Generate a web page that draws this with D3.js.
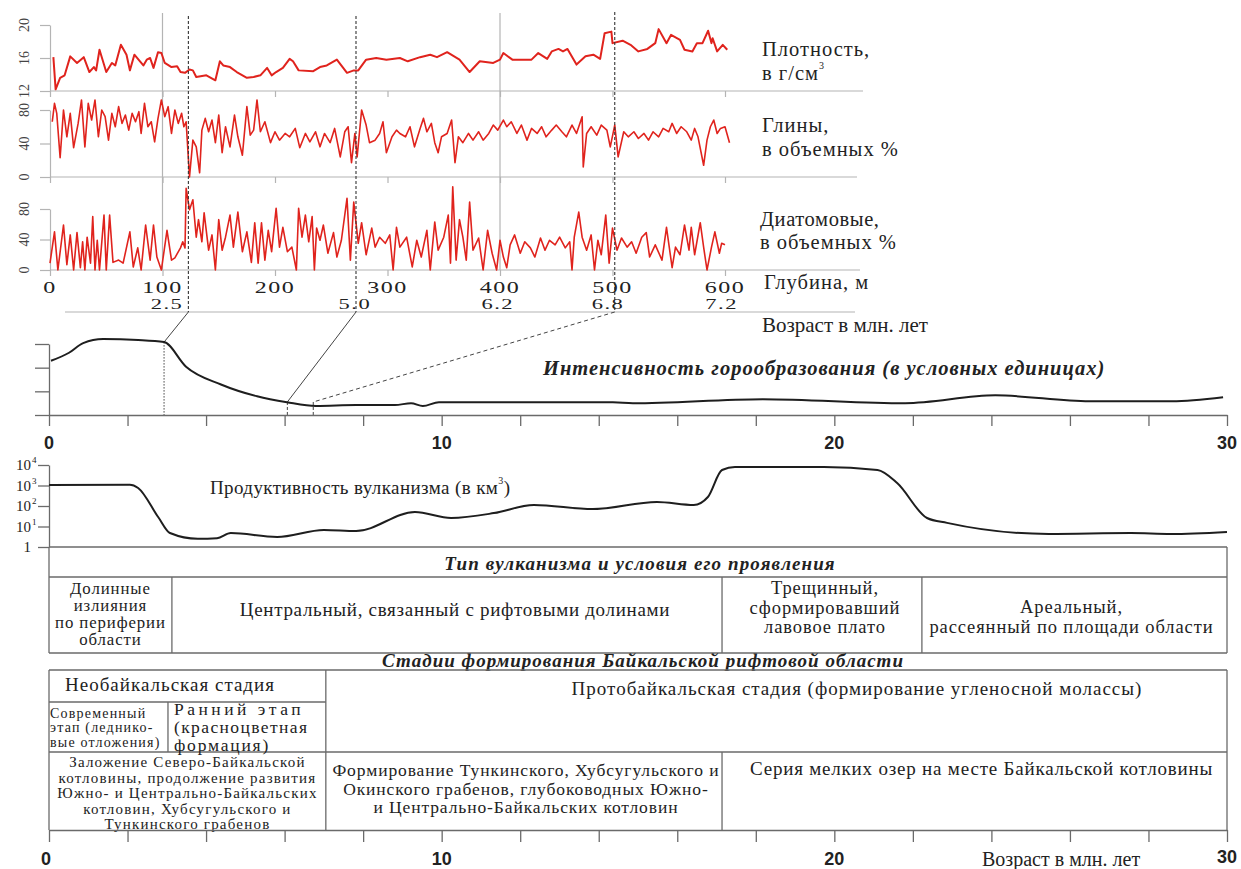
<!DOCTYPE html>
<html><head><meta charset="utf-8">
<script src="https://cdn.jsdelivr.net/npm/d3@7"></script>
<style>
body{margin:0;background:#fff}
svg{display:block}
text{font-family:"Liberation Serif","Times New Roman","DejaVu Serif",serif;fill:#222}
</style>
</head><body>
<svg id="c" width="1241" height="869"></svg>
<script>
// ---------------- DATA ----------------
const depthTicks = [0,100,200,300,400,500,600];
const depthGrid = [100,400];
const densityTicks = [12,16,20];
const pctTicks = [0,40,80];
const ageLabelText = ["2.5","5.0","6.2","6.8","7.2"];
const ageLabelDepth = [104,271,398,496,597];
const connectorDepth = [123,272,502];
const connectorAge = [2.93,6.07,6.73];
const connectorLevel = [3.08,0.55,0.55];

// density g/cm3 (x10) vs depth, m
const density = [[3,16.1],[5,12.2],[9,13.6],[13,13.9],[18,16.2],[24,15.4],[30,16.1],[35,14.3],[39,14.9],[41,14.5],
[44,17.0],[50,14.3],[55,15.4],[58,15.1],[63,17.6],[68,16.4],[71,14.5],[75,16.4],[80,15.6],[83,15.1],
[86,15.8],[89,16.0],[92,14.8],[96,16.7],[99,16.6],[102,15.4],[108,14.9],[113,15.0],[116,14.3],[120,14.2],
[124,14.6],[127,14.5],[130,13.7],[139,13.9],[147,13.3],[151,15.6],[154,15.1],[160,14.9],[166,14.3],[175,13.6],
[181,13.7],[187,13.9],[193,14.8],[197,13.9],[201,14.3],[207,14.8],[213,15.9],[216,15.6],[221,14.5],[234,14.4],
[240,14.9],[246,15.1],[255,15.8],[264,14.2],[270,14.5],[274,14.5],[281,15.8],[290,16.0],[299,15.8],
[311,16.0],[318,15.6],[329,16.1],[338,16.4],[344,16.1],[353,16.7],[364,15.8],[373,14.3],[382,15.6],[394,15.4],
[400,15.8],[403,16.6],[411,15.8],[428,15.8],[434,16.6],[442,15.9],[446,16.8],[452,17.1],[456,16.8],[460,17.1],
[468,15.2],[476,16.2],[483,16.4],[489,15.9],[493,19.0],[499,19.2],[500,17.8],[509,18.1],[516,17.6],[523,16.8],
[531,17.1],[538,17.8],[541,19.5],[548,17.8],[552,18.8],[560,18.2],[564,17.0],[571,16.8],[575,17.8],[580,17.8],
[585,19.3],[588,17.8],[589,18.4],[593,16.8],[598,17.6],[602,17.0]];

// clays, volume % vs depth
const clay = [[2,66],[4,88],[6,76],[9,23],[12,80],[15,48],[18,76],[21,35],[25,64],[28,92],[31,36],[34,88],[37,68],[40,92],
[43,48],[46,80],[49,72],[52,44],[55,76],[58,60],[61,84],[64,64],[67,74],[70,56],[73,76],[76,66],[79,78],[81,52],
[84,88],[87,60],[90,66],[93,42],[96,70],[99,92],[102,72],[105,84],[108,52],[111,80],[114,64],[117,76],[119,60],
[121,66],[124,0],[127,44],[130,36],[133,5],[135,56],[138,70],[141,54],[144,68],[147,41],[150,74],[153,29],[156,60],
[160,36],[164,74],[167,48],[171,26],[175,84],[178,50],[181,56],[184,92],[187,54],[191,66],[196,41],[200,54],[204,44],
[209,52],[213,48],[218,58],[222,35],[227,52],[231,42],[236,54],[240,36],[244,52],[249,41],[253,58],[258,24],[262,54],
[265,60],[268,17],[271,52],[273,24],[277,80],[281,62],[284,41],[289,44],[293,52],[296,66],[299,29],[304,48],[308,56],
[311,52],[316,48],[320,60],[324,36],[329,58],[332,70],[335,54],[339,64],[342,41],[345,29],[348,48],[353,52],[357,68],
[360,17],[363,48],[367,41],[372,52],[376,44],[381,54],[385,44],[390,52],[394,62],[398,56],[403,68],[406,60],[410,66],
[415,52],[419,62],[424,44],[428,58],[433,52],[437,60],[441,48],[446,56],[450,62],[455,54],[459,48],[464,62],[468,52],
[473,72],[474,12],[477,52],[481,60],[486,50],[490,62],[495,56],[498,36],[502,62],[505,24],[510,54],[514,48],[519,54],
[523,46],[528,52],[532,44],[536,54],[541,48],[545,58],[550,54],[553,64],[557,52],[561,60],[566,54],[570,44],[573,58],
[576,48],[581,14],[584,44],[587,60],[590,68],[593,52],[596,58],[600,60],[604,41]];

// diatoms, volume % vs depth
const diatoms = [[0,9],[4,50],[7,0],[12,59],[15,7],[18,46],[21,0],[24,49],[27,3],[29,37],[31,0],[33,43],[36,9],[38,70],
[40,0],[42,39],[44,0],[48,72],[50,0],[53,72],[56,10],[61,13],[65,9],[71,50],[74,4],[78,29],[81,0],[85,59],[89,13],
[92,59],[95,17],[99,0],[104,52],[108,13],[111,16],[116,29],[118,37],[120,29],[121,107],[124,79],[127,92],[130,43],
[132,66],[135,37],[137,75],[141,26],[144,46],[147,0],[150,66],[153,26],[156,43],[160,72],[163,30],[167,76],[171,24],
[175,50],[179,10],[182,62],[185,9],[188,62],[191,13],[194,52],[197,24],[201,81],[204,30],[207,56],[211,24],[215,30],
[219,0],[221,81],[224,43],[227,72],[230,37],[233,70],[235,0],[237,55],[240,39],[243,59],[247,22],[252,49],[255,17],
[259,39],[264,94],[267,13],[270,89],[274,35],[277,62],[281,20],[286,55],[289,30],[293,43],[298,35],[302,46],[305,0],
[308,56],[311,30],[317,43],[322,4],[326,39],[330,17],[335,52],[338,0],[342,63],[345,26],[350,43],[354,72],[356,9],
[358,109],[361,13],[364,66],[367,43],[370,13],[373,89],[376,26],[381,42],[385,0],[389,52],[393,22],[397,0],[400,39],
[403,17],[406,3],[409,33],[413,46],[418,22],[422,37],[427,29],[431,17],[436,42],[440,26],[444,39],[449,33],[453,43],
[458,29],[462,37],[464,0],[466,43],[470,76],[473,43],[477,26],[481,46],[484,0],[487,39],[490,20],[494,72],[497,9],
[500,55],[504,26],[508,42],[513,30],[517,37],[521,22],[526,43],[530,49],[533,17],[538,33],[544,13],[548,56],[553,3],
[556,30],[560,20],[564,59],[568,26],[570,56],[573,20],[578,62],[581,30],[584,0],[588,30],[591,50],[595,22],[597,35],[600,33]];

// mountain building intensity (conventional units) vs age, Ma
const intensity = [[0.05,2.29],[0.51,2.63],[0.87,3.04],[1.38,3.21],[2.27,3.17],[2.93,3.08],[3.49,2.04],[4.38,1.29],
[5.30,0.79],[6.06,0.54],[6.80,0.38],[7.82,0.42],[8.81,0.42],[9.22,0.5],[9.52,0.38],[9.93,0.54],[11.84,0.54],
[14.36,0.54],[14.87,0.5],[18.18,0.67],[21.8,0.5],[24.1,0.83],[26.5,0.58],[28.6,0.58],[29.9,0.75]];
const intensityTicks = [0,1,2,3];

// volcanism productivity, km3 vs age, Ma
const volcanism = [[0,1050],[2.06,1100],[2.27,760],[2.78,29],[3.08,4.8],[3.79,2.5],[4.28,2.7],[4.63,4.8],[5.81,3.1],
[7.0,6.8],[7.82,6.0],[9.32,51],[10.24,26],[11.33,45],[12.35,112],[13.85,71],[15.48,157],[16.42,112],[16.78,275],
[17.14,5700],[17.47,7900],[19.73,7900],[21.1,5700],[21.6,1320],[22.36,26],[22.87,15],[25.46,4.3],[27.55,4.8],
[28.57,4.3],[30.0,5.4]];
const volTicks = [1,10,100,1000,10000];
const volTickExp = ["","1","2","3","4"];

const ageTicks = [0,2,4,6,8,10,12,14,16,18,20,22,24,26,28,30];
const ageLabels = [0,10,20,30];

// volcanism type table
const volcTypeBreaks = [0,3.13,17.14,22.23,30];
const volcTypeText = [["Долинные","излияния","по периферии","области"],
  ["Центральный, связанный с рифтовыми долинами"],
  ["Трещинный,","сформировавший","лавовое плато"],
  ["Ареальный,","рассеянный по площади области"]];

// stages table
const stageNeoEnd = 7.05, stageModernEnd = 3.03, stageTunkaEnd = 17.14;
const stageNeo = "Необайкальская стадия";
const stageModern = ["Современный","этап (леднико-","вые отложения)"];
const stageEarly = ["Ранний этап","(красноцветная","формация)"];
const stageProto = "Протобайкальская стадия (формирование угленосной молассы)";
const stageRowA = ["Заложение Северо-Байкальской","котловины, продолжение развития","Южно- и Центрально-Байкальских","котловин, Хубсугульского и","Тункинского грабенов"];
const stageRowB = ["Формирование Тункинского, Хубсугульского и","Окинского грабенов, глубоководных Южно-","и Центрально-Байкальских котловин"];
const stageRowC = ["Серия мелких озер на месте Байкальской котловины"];

// ---------------- DRAW ----------------
const svg = d3.select("#c");
const red = "#e0231d", ink = "#1e1e1e", grid = "#b4b4b4", rule = "#6a6a6a";

const xDepth = d3.scaleLinear().domain([0,600]).range([50,725]);
const yDen = d3.scaleLinear().domain([12,20]).range([91,25]);
const yClay = d3.scaleLinear().domain([0,80]).range([177,110]);
const yDia = d3.scaleLinear().domain([0,80]).range([270,209]);
const xAge = d3.scaleLinear().domain([0,30]).range([49,1227]);
const yInt = d3.scaleLinear().domain([0,3]).range([415,344]);
const yVol = d3.scaleLog().domain([1,1e4]).range([547,465]);

function txt(g, x, y, s, o={}){
  const t = g.append("text").attr("x",x).attr("y",y).attr("dominant-baseline","central")
    .attr("text-anchor",o.anchor||"start").style("font-size",(o.size||17)+"px");
  if(o.bold) t.style("font-weight","bold");
  if(o.italic) t.style("font-style","italic");
  if(o.family) t.style("font-family",o.family);
  if(o.ls) t.style("letter-spacing",o.ls+"px");
  t.text(s);
  return t;
}

// ---- top panel ----
const tp = svg.append("g");
tp.selectAll(".gv").data(depthGrid).enter().append("line")
  .attr("x1",d=>xDepth(d)).attr("x2",d=>xDepth(d)).attr("y1",13).attr("y2",yDia(0))
  .attr("stroke",grid).attr("stroke-width",1.2);

const seps = [[yDen(12),863],[yClay(0),857],[yDia(0),860]];
seps.forEach(([y,xe])=>{
  const g = tp.append("g").attr("transform",`translate(0,${y})`)
    .call(d3.axisBottom(xDepth).tickValues(depthTicks).tickSize(6).tickFormat(""));
  g.select(".domain").remove();
  g.selectAll(".tick line").attr("stroke",grid).attr("stroke-width",1.2);
  tp.append("line").attr("x1",xDepth(0)).attr("x2",xe).attr("y1",y).attr("y2",y)
    .attr("stroke",grid).attr("stroke-width",1.2);
});
tp.append("line").attr("x1",65).attr("x2",855).attr("y1",312).attr("y2",312)
  .attr("stroke",grid).attr("stroke-width",1.2);

function yAxis(scale, ticks){
  const g = tp.append("g").attr("transform",`translate(${xDepth(0)},0)`)
    .call(d3.axisLeft(scale).tickValues(ticks).tickSize(10).tickSizeOuter(0).tickFormat(""));
  g.selectAll("path,line").attr("stroke",grid).attr("stroke-width",1.2);
  ticks.forEach(v=>{
    tp.append("text").attr("transform",`translate(24,${scale(v)}) rotate(-90)`)
      .attr("text-anchor","middle").attr("dominant-baseline","central")
      .style("font-size","14px").style("fill","#444").text(v);
  });
}
yAxis(yDen, densityTicks);
yAxis(yClay, pctTicks);
yAxis(yDia, pctTicks);

depthTicks.forEach(d=>{
  tp.append("text").attr("transform",`translate(${xDepth(d)},288) scale(1.5,1)`)
    .attr("text-anchor","middle").attr("dominant-baseline","central")
    .style("font-size","16px").style("letter-spacing","1px").text(d);
});
ageLabelText.forEach((s,i)=>{
  tp.append("text").attr("transform",`translate(${xDepth(ageLabelDepth[i])},304) scale(1.5,1)`)
    .attr("text-anchor","middle").attr("dominant-baseline","central")
    .style("font-size","15px").style("letter-spacing","1px").text(s);
});

const lDepth = (ys)=>d3.line().x(d=>xDepth(d[0])).y(d=>ys(d[1]));
tp.append("path").attr("d",lDepth(yDen)(density)).attr("fill","none").attr("stroke",red).attr("stroke-width",2).attr("stroke-linejoin","round");
tp.append("path").attr("d",lDepth(yClay)(clay)).attr("fill","none").attr("stroke",red).attr("stroke-width",1.6).attr("stroke-linejoin","round");
tp.append("path").attr("d",lDepth(yDia)(diatoms)).attr("fill","none").attr("stroke",red).attr("stroke-width",1.6).attr("stroke-linejoin","round");

const rl = 762;
txt(tp, rl, 49, "Плотность,", {size:20.5, ls:1});
const t2 = txt(tp, rl, 73, "в г/см", {size:20.5, ls:1});
t2.append("tspan").attr("dy",-8).style("font-size","10px").text("3");
txt(tp, rl, 125, "Глины,", {size:20.5, ls:1});
txt(tp, rl, 149, "в объемных %", {size:20.5, ls:1});
txt(tp, rl-2, 219, "Диатомовые,", {size:20.5, ls:0.6});
txt(tp, rl-2, 242, "в объемных %", {size:20.5, ls:1});
txt(tp, rl+2, 282, "Глубина, м", {size:20.5, ls:1});
txt(tp, rl, 325, "Возраст в млн. лет", {size:21});

connectorDepth.forEach((d,i)=>{
  const x0 = xDepth(d), x1 = xAge(connectorAge[i]), y1 = yInt(connectorLevel[i]);
  tp.append("line").attr("x1",x0).attr("x2",x0).attr("y1",i===2?12:16).attr("y2",312)
    .attr("stroke","#333").attr("stroke-width",1.1).attr("stroke-dasharray","3,2");
  tp.append("line").attr("x1",x0).attr("x2",x1).attr("y1",312).attr("y2",y1)
    .attr("stroke","#444").attr("stroke-width",1).attr("stroke-dasharray",i===2?"4,3":null);
  tp.append("line").attr("x1",x1).attr("x2",x1).attr("y1",y1).attr("y2",yInt(0))
    .attr("stroke","#444").attr("stroke-width",1).attr("stroke-dasharray",i===0?"1.5,1.5":"3,2");
});

// ---- intensity panel ----
const mid = svg.append("g");
const gi = mid.append("g").attr("transform",`translate(${xAge(0)},0)`)
  .call(d3.axisLeft(yInt).tickValues(intensityTicks).tickSize(14).tickSizeOuter(0).tickFormat(""));
gi.selectAll("path,line").attr("stroke",rule).attr("stroke-width",1.3);
const ga = mid.append("g").attr("transform",`translate(0,${yInt(0)})`)
  .call(d3.axisBottom(xAge).tickValues(ageTicks).tickSize(11).tickSizeOuter(0).tickFormat(""));
ga.selectAll("path,line").attr("stroke",rule).attr("stroke-width",1.3);
ageLabels.forEach(a=>txt(mid, xAge(a), 443, a, {size:18, bold:true, anchor:"middle", family:"'Liberation Sans',Arial,sans-serif"}));
mid.append("path").attr("d",d3.line().curve(d3.curveMonotoneX).x(d=>xAge(d[0])).y(d=>yInt(d[1]))(intensity))
  .attr("fill","none").attr("stroke",ink).attr("stroke-width",2);
txt(mid, 543, 368, "Интенсивность  горообразования (в условных единицах)", {size:20.5, bold:true, italic:true, ls:1});

// ---- volcanism panel ----
const gv = mid.append("g").attr("transform",`translate(${xAge(0)},0)`)
  .call(d3.axisLeft(yVol).tickValues(volTicks).tickSize(11).tickSizeOuter(0).tickFormat(""));
gv.selectAll("path,line").attr("stroke",rule).attr("stroke-width",1.3);
volTicks.forEach((v,i)=>{
  txt(mid, 31, yVol(v), v===1?"1":"10", {size:15, anchor:"end"});
  if(volTickExp[i]) mid.append("text").attr("x",32).attr("y",yVol(v)-5).attr("dominant-baseline","central")
      .style("font-size","9px").text(volTickExp[i]);
});
mid.append("path").attr("d",d3.line().curve(d3.curveMonotoneX).x(d=>xAge(d[0])).y(d=>yVol(d[1]))(volcanism))
  .attr("fill","none").attr("stroke",ink).attr("stroke-width",2);
const pv = txt(mid, 210, 487, "Продуктивность вулканизма (в км", {size:19, ls:0.4});
pv.append("tspan").attr("dy",-7).style("font-size","10px").text("3");
pv.append("tspan").attr("dy",7).text(")");

// ---- volcanism type table ----
const tb = svg.append("g");
const tl = xAge(0), tr = xAge(30);
const line = (g,x1,y1,x2,y2)=>g.append("line").attr("x1",x1).attr("y1",y1).attr("x2",x2).attr("y2",y2)
  .attr("stroke",rule).attr("stroke-width",1.3);
line(tb,tl,547,tr,547); line(tb,tl,577,tr,577); line(tb,tl,653,tr,653);
line(tb,tl,547,tl,653); line(tb,tr,547,tr,653);
volcTypeBreaks.slice(1,-1).forEach(a=>line(tb,xAge(a),577,xAge(a),653));
txt(tb, 640, 563, "Тип вулканизма и условия его проявления", {size:19, bold:true, italic:true, anchor:"middle", ls:1.1});
const vtTop = [588,609,588,607], vtShift=[0,8,3,-3], vtSize=[16.8,19,18.5,18.5], vtLs=[0.9,0.7,0.9,0.9];
volcTypeText.forEach((lines,i)=>{
  const cx = (xAge(volcTypeBreaks[i])+xAge(volcTypeBreaks[i+1]))/2 + vtShift[i];
  lines.forEach((s,j)=>txt(tb, cx, vtTop[i]+j*(i===0?17.3:19.5), s, {size:vtSize[i], ls:vtLs[i], anchor:"middle"}));
});

// ---- stages table ----
txt(tb, 643, 660, "Стадии формирования Байкальской рифтовой области", {size:19, bold:true, italic:true, anchor:"middle", ls:1});
const xNeo = xAge(stageNeoEnd), xMod = xAge(stageModernEnd), xTun = xAge(stageTunkaEnd);
line(tb,tl,670,tr,670); line(tb,tl,752,tr,752); line(tb,tl,702,xNeo,702);
line(tb,tl,670,tl,830); line(tb,tr,670,tr,830); line(tb,xNeo,670,xNeo,830);
line(tb,xMod,702,xMod,752); line(tb,xTun,752,xTun,830);
txt(tb, 170, 684, stageNeo, {size:19, anchor:"middle", ls:1});
stageModern.forEach((s,j)=>txt(tb, 50, 713+j*14.6, s, {size:14, ls:1.2}));
const earlyLs = [3.5,1.4,1.8];
stageEarly.forEach((s,j)=>txt(tb, xMod+6, 709+j*18, s, {size:17.5, ls:earlyLs[j]}));
txt(tb, 857, 688, stageProto, {size:19, anchor:"middle", ls:1});
stageRowA.forEach((s,j)=>txt(tb, (tl+xNeo)/2, 762+j*15.5, s, {size:15, anchor:"middle", ls:1.2}));
stageRowB.forEach((s,j)=>txt(tb, (xNeo+xTun)/2+2, 770+j*18.5, s, {size:17.5, anchor:"middle", ls:0.9}));
stageRowC.forEach((s,j)=>txt(tb, (xTun+tr)/2+7, 768+j*18, s, {size:19, anchor:"middle", ls:0.8}));

const gb = tb.append("g").attr("transform","translate(0,830)")
  .call(d3.axisBottom(xAge).tickValues(ageTicks).tickSize(12).tickSizeOuter(0).tickFormat(""));
gb.selectAll("path,line").attr("stroke",rule).attr("stroke-width",1.3);
ageLabels.forEach(a=>txt(tb, xAge(a)-(a===0?3:0), a===30?857:859, a, {size:18, bold:true, anchor:"middle", family:"'Liberation Sans',Arial,sans-serif"}));
txt(tb, 982, 859, "Возраст в млн. лет", {size:20});
</script>
</body></html>
